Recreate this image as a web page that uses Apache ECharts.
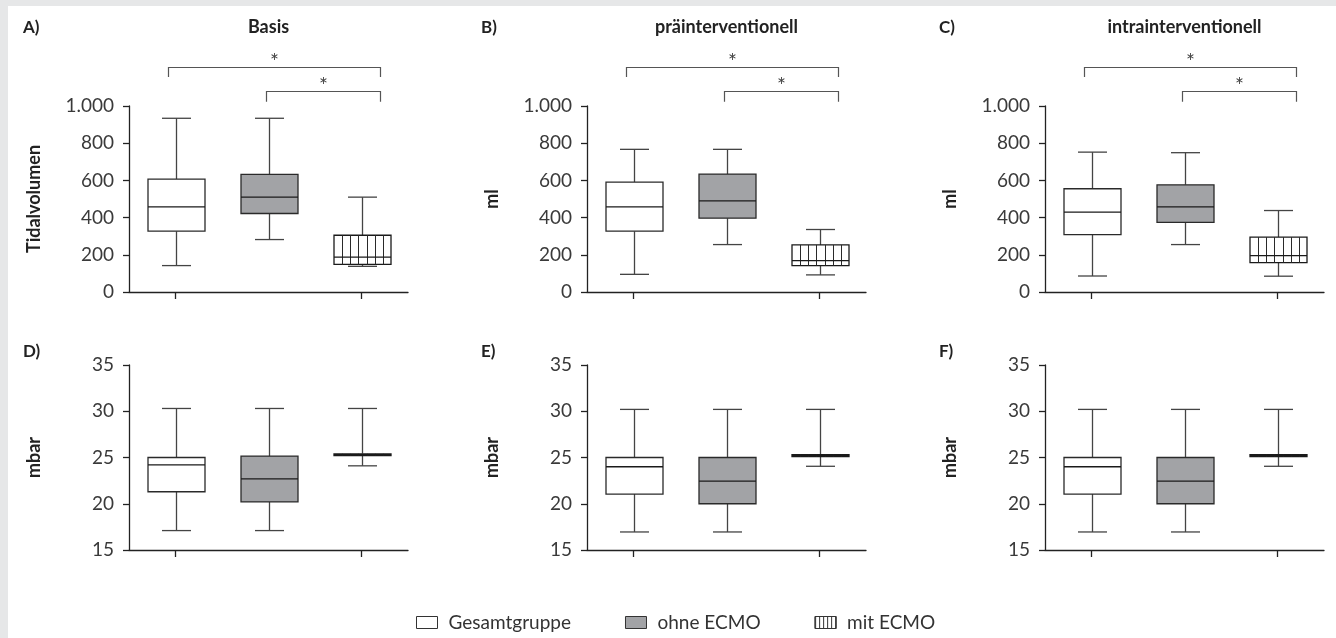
<!DOCTYPE html>
<html>
<head>
<meta charset="utf-8">
<script src="https://cdn.jsdelivr.net/npm/echarts@6/dist/echarts.min.js"></script>
<style>
html,body{margin:0;padding:0;background:#fff;}
#c{width:1336px;height:638px;}
</style>
</head>
<body>
<div id="c"></div>
<script>
// ---------- data ----------
const groups = ['Gesamtgruppe', 'ohne ECMO', 'mit ECMO'];
const panelTitles = ['Basis', 'präinterventionell', 'intrainterventionell'];
const panelLetters = ['A)', 'B)', 'C)', 'D)', 'E)', 'F)'];
const yNames = ['Tidalvolumen', 'ml', 'ml', 'mbar', 'mbar', 'mbar'];
const tidalTicks = [0, 200, 400, 600, 800, 1000];
const pressureTicks = [15, 20, 25, 30, 35];
// box data: [min, Q1, median, Q3, max] per group
const tidalBasis   = [[142, 327, 458, 607, 934], [282, 422, 510, 632, 934], [138, 148, 188, 305, 510]];
const tidalPrae    = [[95, 327, 458, 591, 767],  [255, 397, 490, 634, 767], [92, 142, 169, 253, 336]];
const tidalIntra   = [[86, 309, 429, 555, 752],  [255, 374, 458, 576, 749], [85, 158, 196, 295, 438]];
const pressBasis   = [[17.1, 21.3, 24.2, 25.0, 30.3], [17.1, 20.2, 22.7, 25.15, 30.3], [24.1, 25.2, 25.3, 25.4, 30.3]];
const pressPrae    = [[16.95, 21.05, 24.0, 25.0, 30.2], [16.95, 20.0, 22.45, 25.0, 30.2], [24.05, 25.1, 25.2, 25.3, 30.2]];
const pressIntra   = [[16.95, 21.05, 24.0, 25.0, 30.2], [16.95, 20.0, 22.45, 25.0, 30.2], [24.05, 25.1, 25.2, 25.3, 30.2]];
// significance brackets: [fromGroup, toGroup, level value, leg end value, label]
const brackets = [[0, 2, 1211, 1156, '*'], [1, 2, 1081, 1023, '*']];

const panelData = [tidalBasis, tidalPrae, tidalIntra, pressBasis, pressPrae, pressIntra];

// ---------- layout ----------
const FONT = 'Lato, "Open Sans", sans-serif';
const gridLefts = [129, 587, 1045];
const gridW = 279;
const gridTops = [106, 365];
const gridHs = [186, 185];

const styles = [
  {fill: '#ffffff', border: '#2a2a2a', hatch: false},
  {fill: '#a2a3a6', border: '#2a2a2a', hatch: false},
  {fill: '#ffffff', border: '#1a1a1a', hatch: true}
];

function fmt(v) {
  if (v >= 1000) return Math.floor(v / 1000) + '.' + String(v % 1000).padStart(3, '0');
  return String(v);
}

const grids = [], xAxes = [], yAxes = [], series = [], titles = [];

for (let p = 0; p < 6; p++) {
  const row = p < 3 ? 0 : 1, col = p % 3;
  grids.push({left: gridLefts[col], top: gridTops[row], width: gridW, height: gridHs[row], containLabel: false});
  xAxes.push({
    type: 'category', gridIndex: p, data: groups,
    axisLine: {lineStyle: {color: '#222', width: 1.3}},
    axisTick: {show: true, alignWithLabel: true, length: 7, lineStyle: {color: '#222', width: 1.3}},
    axisLabel: {show: false}, splitLine: {show: false}
  });
  const ticks = row === 0 ? tidalTicks : pressureTicks;
  yAxes.push({
    type: 'value', gridIndex: p,
    min: ticks[0], max: ticks[ticks.length - 1], interval: ticks[1] - ticks[0],
    name: yNames[p], nameLocation: 'middle', nameGap: 86, nameRotate: 90,
    nameTextStyle: {fontFamily: FONT, fontSize: 18, fontWeight: 'bold', color: '#222'},
    axisLine: {show: true, lineStyle: {color: '#222', width: 1.3}},
    axisTick: {show: true, length: 6, lineStyle: {color: '#222', width: 1.3}},
    axisLabel: {fontFamily: FONT, fontSize: 19, color: '#3a3a3a', margin: 15, formatter: fmt},
    splitLine: {show: false}
  });
  titles.push({text: panelLetters[p], left: [23, 481, 939][col], top: row === 0 ? 19 : 343, padding: 0,
    textStyle: {fontFamily: FONT, fontSize: 17, fontWeight: 'bold', color: '#222'}});
  if (row === 0) {
    titles.push({text: panelTitles[col], left: gridLefts[col] + gridW / 2, textAlign: 'center', top: 18, padding: 0,
      textStyle: {fontFamily: FONT, fontSize: 18, fontWeight: 'bold', color: '#222'}});
  }

  const data = panelData[p];
  for (let g = 0; g < 3; g++) {
    const st = styles[g];
    series.push({
      type: 'custom', name: groups[g], xAxisIndex: p, yAxisIndex: p,
      itemStyle: {color: st.fill, borderColor: st.border, borderWidth: 1},
      data: [[g].concat(data[g])],
      renderItem: function (params, api) {
        const cat = api.value(0);
        const mn = api.value(1), q1 = api.value(2), md = api.value(3), q3 = api.value(4), mx = api.value(5);
        const xc = Math.round(api.coord([cat, md])[0]) + 0.5;
        const Y = v => api.coord([cat, v])[1];
        const bw = 57, cw = 29;
        const wStyle = {stroke: '#444', lineWidth: 1.3};
        const ch = [];
        ch.push({type: 'line', shape: {x1: xc, y1: Y(q3), x2: xc, y2: Y(mx)}, style: wStyle});
        ch.push({type: 'line', shape: {x1: xc, y1: Y(q1), x2: xc, y2: Y(mn)}, style: wStyle});
        ch.push({type: 'line', shape: {x1: xc - cw / 2, y1: Y(mx), x2: xc + cw / 2, y2: Y(mx)}, style: wStyle});
        ch.push({type: 'line', shape: {x1: xc - cw / 2, y1: Y(mn), x2: xc + cw / 2, y2: Y(mn)}, style: wStyle});
        const top = Y(q3), bot = Y(q1);
        ch.push({type: 'rect', shape: {x: xc - bw / 2, y: top, width: bw, height: bot - top},
          style: {fill: st.fill, stroke: st.border, lineWidth: 1.3}});
        if (st.hatch) {
          const n = 7;
          for (let k = 1; k < n; k++) {
            const hx = Math.round(xc - bw / 2 + bw * k / n) + 0.5;
            ch.push({type: 'line', shape: {x1: hx, y1: top, x2: hx, y2: bot}, style: {stroke: '#2a2a2a', lineWidth: 1}});
          }
        }
        ch.push({type: 'line', shape: {x1: xc - bw / 2, y1: Y(md), x2: xc + bw / 2, y2: Y(md)}, style: {stroke: '#1a1a1a', lineWidth: 1.3}});
        return {type: 'group', children: ch};
      },
      z: 3
    });
  }
  if (row === 0) {
    series.push({
      type: 'custom', name: 'sig', xAxisIndex: p, yAxisIndex: p, silent: true,
      data: brackets.map(b => b.slice(0, 4)),
      renderItem: function (params, api) {
        const i = params.dataIndex;
        const a = api.value(0), b = api.value(1), lv = api.value(2), leg = api.value(3);
        const band = api.size([1, 0])[0];
        const x1 = Math.round(api.coord([a, lv])[0] - band * (a === 0 ? 0.08 : 0.03)) + 0.5;
        const x2 = Math.round(api.coord([b, lv])[0] + band * 0.2) + 0.5;
        const y = Math.round(api.coord([a, lv])[1]) + 0.5;
        const yl = api.coord([a, leg])[1];
        const ls = {stroke: '#555', lineWidth: 1.2, fill: null};
        return {type: 'group', children: [
          {type: 'polyline', shape: {points: [[x1, yl], [x1, y], [x2, y], [x2, yl]]}, style: ls},
          {type: 'text', x: (x1 + x2) / 2, y: y + 5, style: {text: brackets[i][4], fill: '#444', font: '21px ' + FONT, align: 'center', verticalAlign: 'bottom'}}
        ]};
      },
      z: 2
    });
  }
}

const chart = echarts.init(document.getElementById('c'), null, {renderer: 'canvas'});
chart.setOption({
  backgroundColor: '#ffffff',
  animation: false,
  textStyle: {fontFamily: FONT},
  title: titles,
  graphic: [
    {type: 'rect', left: 0, top: 0, shape: {width: 8, height: 638}, style: {fill: '#e6e7e8'}, silent: true},
    {type: 'rect', left: 0, top: 0, shape: {width: 1336, height: 6}, style: {fill: '#e6e7e8'}, silent: true}
  ],
  legend: {
    left: 411, top: 608, icon: 'rect', itemWidth: 21, itemHeight: 12, itemGap: 54,
    selectedMode: false,
    textStyle: {fontFamily: FONT, fontSize: 19, color: '#333', padding: [0, 0, 0, 6]},
    data: [
      {name: 'Gesamtgruppe', itemStyle: {color: '#ffffff', borderColor: '#333', borderWidth: 1}},
      {name: 'ohne ECMO', itemStyle: {color: '#a2a3a6', borderColor: '#333', borderWidth: 1}},
      {name: 'mit ECMO', itemStyle: {color: '#ffffff', borderColor: '#333', borderWidth: 1,
        decal: {symbol: 'rect', symbolSize: 1, dashArrayX: [1, 3], dashArrayY: [12, 0], color: '#333', backgroundColor: '#ffffff'}}}
    ]
  },
  grid: grids,
  xAxis: xAxes,
  yAxis: yAxes,
  series: series
});
</script>
</body>
</html>
